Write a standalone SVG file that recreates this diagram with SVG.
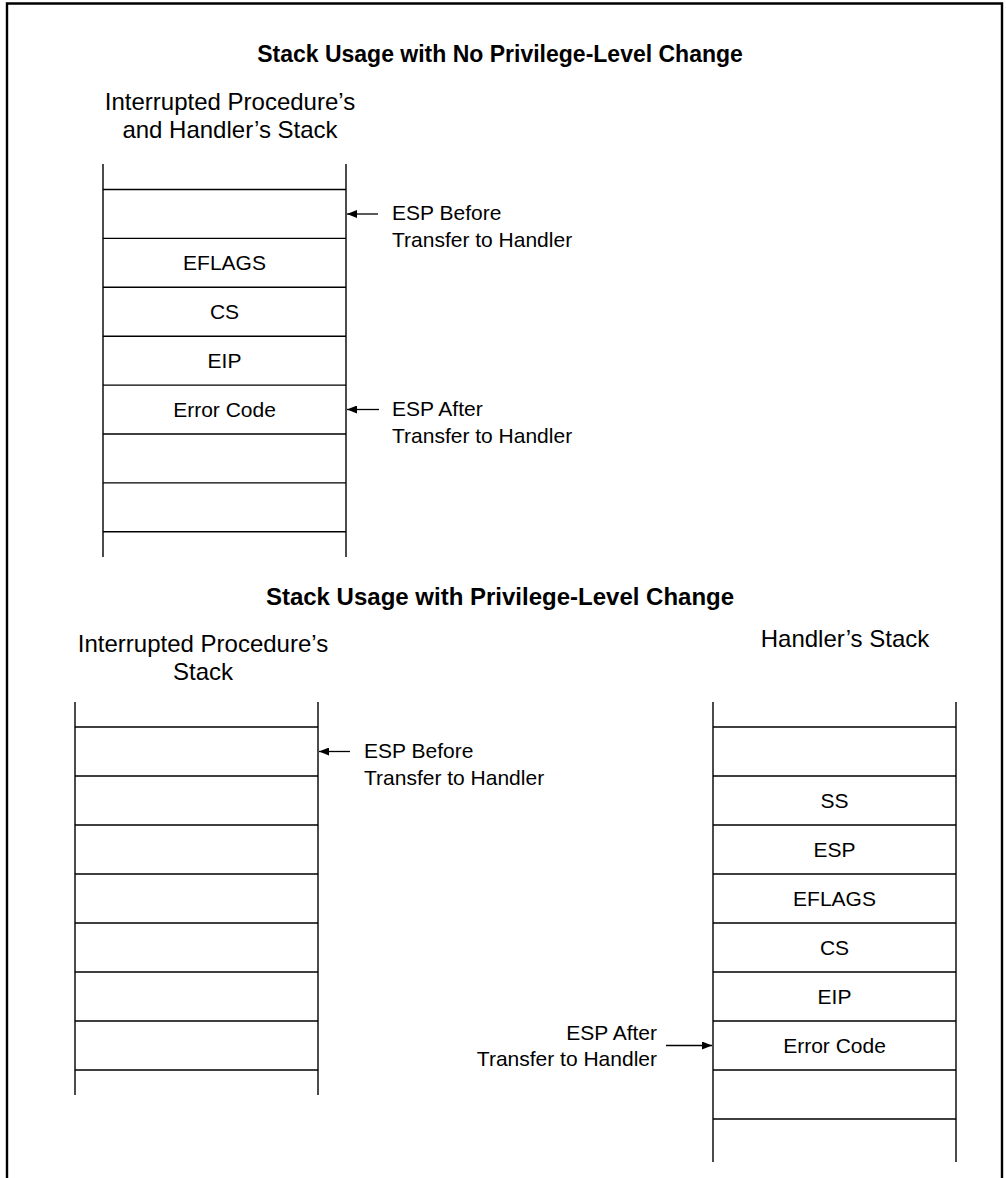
<svg xmlns="http://www.w3.org/2000/svg" width="1006" height="1178" viewBox="0 0 1006 1178">
<defs>
<marker id="ah" markerWidth="10" markerHeight="8" refX="10" refY="4" orient="auto" markerUnits="userSpaceOnUse">
<path d="M0,0 L10,4 L0,8 Z" fill="#000"/>
</marker>
<style>
.t{font-family:"Liberation Sans",Arial,sans-serif;fill:#000}
.title{font-size:23px;font-weight:bold;text-anchor:middle}
.sub{font-size:24px;text-anchor:middle}
.lbl{font-size:21px}
.cell{font-size:21px;text-anchor:middle}
.ln{stroke:#000;stroke-width:1.4;fill:none}
.con{stroke:#000;stroke-width:1.3;fill:none;marker-end:url(#ah)}
</style>
</defs>
<rect width="1006" height="1178" fill="#fff"/>
<path d="M7,1178 V3.5 H1002 V1178" fill="none" stroke="#000" stroke-width="2.4"/>

<text class="t title" x="500" y="62">Stack Usage with No Privilege-Level Change</text>
<text class="t sub" x="230" y="110">Interrupted Procedure’s</text>
<text class="t sub" x="230" y="138">and Handler’s Stack</text>

<g id="stack-top">
<path class="ln" d="M103,164 V557 M346,164 V557"/>
<path class="ln" d="M103,189.5 H346 M103,238.4 H346 M103,287.3 H346 M103,336.2 H346 M103,385.1 H346 M103,434 H346 M103,482.9 H346 M103,531.8 H346"/>
<g id="top-eflags"><text class="t cell" x="224.5" y="270.4">EFLAGS</text></g>
<g id="top-cs"><text class="t cell" x="224.5" y="319.3">CS</text></g>
<g id="top-eip"><text class="t cell" x="224.5" y="368.2">EIP</text></g>
<g id="top-errcode"><text class="t cell" x="224.5" y="417">Error Code</text></g>
</g>

<g id="top-esp-before">
<text class="t lbl" x="392" y="220">ESP Before</text>
<text class="t lbl" x="392" y="247">Transfer to Handler</text>
</g>
<g id="top-esp-after">
<text class="t lbl" x="392" y="416">ESP After</text>
<text class="t lbl" x="392" y="443">Transfer to Handler</text>
</g>

<text class="t title" x="500" y="605" style="font-size:24px">Stack Usage with Privilege-Level Change</text>
<text class="t sub" x="203" y="652">Interrupted Procedure’s</text>
<text class="t sub" x="203" y="680">Stack</text>
<text class="t sub" x="845" y="647">Handler’s Stack</text>

<g id="stack-interrupted">
<path class="ln" d="M75,702 V1095 M318,702 V1095"/>
<path class="ln" d="M75,727 H318 M75,776 H318 M75,825 H318 M75,874 H318 M75,923 H318 M75,972 H318 M75,1021 H318 M75,1070 H318"/>
</g>
<g id="bl-esp-before">
<text class="t lbl" x="364" y="758">ESP Before</text>
<text class="t lbl" x="364" y="785">Transfer to Handler</text>
</g>

<g id="stack-handler">
<path class="ln" d="M713,702 V1162 M956,702 V1162"/>
<path class="ln" d="M713,727 H956 M713,776 H956 M713,825 H956 M713,874 H956 M713,923 H956 M713,972 H956 M713,1021 H956 M713,1070 H956 M713,1119 H956"/>
<g id="h-ss"><text class="t cell" x="834.5" y="808">SS</text></g>
<g id="h-esp"><text class="t cell" x="834.5" y="857">ESP</text></g>
<g id="h-eflags"><text class="t cell" x="834.5" y="906">EFLAGS</text></g>
<g id="h-cs"><text class="t cell" x="834.5" y="955">CS</text></g>
<g id="h-eip"><text class="t cell" x="834.5" y="1004">EIP</text></g>
<g id="h-errcode"><text class="t cell" x="834.5" y="1053">Error Code</text></g>
</g>
<g id="br-esp-after">
<text class="t lbl" x="657" y="1040" text-anchor="end">ESP After</text>
<text class="t lbl" x="657" y="1066" text-anchor="end">Transfer to Handler</text>
</g>

<g id="connectors">
<path class="con" d="M378,214 H347"/>
<path class="con" d="M379,409.5 H347"/>
<path class="con" d="M350,751.5 H319"/>
<path class="con" d="M666,1045.5 H712"/>
</g>
</svg>
